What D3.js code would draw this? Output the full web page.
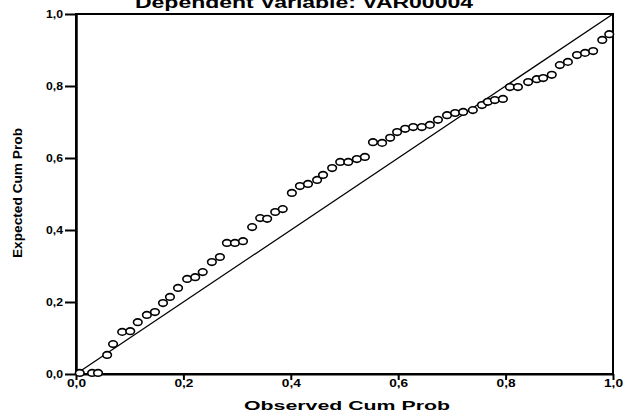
<!DOCTYPE html>
<html>
<head>
<meta charset="utf-8">
<script src="https://cdn.jsdelivr.net/npm/d3@7"></script>
<style>
  html, body { margin: 0; padding: 0; background: #fff; }
  svg { display: block; }
  text { font-family: "Liberation Sans", Arial, sans-serif; font-weight: bold; fill: #000; }
</style>
</head>
<body>
<svg id="chart" width="625" height="417"></svg>
<script>
const title = "Dependent Variable: VAR00004";
const xTitle = "Observed Cum Prob";
const yTitle = "Expected Cum Prob";
const tickValues = [0, 0.2, 0.4, 0.6, 0.8, 1.0];
const tickLabels = ["0,0", "0,2", "0,4", "0,6", "0,8", "1,0"];

const observed = [0.007, 0.030, 0.041, 0.058, 0.069, 0.086, 0.101, 0.115, 0.132, 0.147,
  0.162, 0.175, 0.190, 0.207, 0.222, 0.236, 0.253, 0.268, 0.281, 0.296,
  0.311, 0.328, 0.343, 0.356, 0.371, 0.385, 0.402, 0.417, 0.432, 0.449,
  0.460, 0.477, 0.492, 0.507, 0.523, 0.538, 0.553, 0.570, 0.585, 0.598,
  0.613, 0.628, 0.644, 0.659, 0.674, 0.691, 0.706, 0.721, 0.739, 0.756,
  0.767, 0.780, 0.795, 0.808, 0.823, 0.842, 0.858, 0.870, 0.886, 0.901,
  0.916, 0.933, 0.948, 0.963, 0.980, 0.993];
const expected = [0.003, 0.003, 0.003, 0.053, 0.083, 0.117, 0.119, 0.144, 0.164, 0.172,
  0.197, 0.214, 0.239, 0.264, 0.269, 0.283, 0.311, 0.325, 0.364, 0.364,
  0.369, 0.408, 0.433, 0.431, 0.450, 0.458, 0.503, 0.522, 0.528, 0.539,
  0.553, 0.572, 0.589, 0.589, 0.597, 0.603, 0.644, 0.642, 0.656, 0.672,
  0.681, 0.686, 0.686, 0.692, 0.706, 0.719, 0.725, 0.728, 0.733, 0.747,
  0.756, 0.761, 0.764, 0.797, 0.797, 0.811, 0.819, 0.822, 0.831, 0.858,
  0.867, 0.886, 0.892, 0.897, 0.928, 0.944];
const diagonal = [0, 1];

const svg = d3.select("#chart");
const mLeft = 76, mRight = 613, mTop = 14, mBottom = 374;
const x = d3.scaleLinear().domain([0, 1]).range([mLeft, mRight]);
const y = d3.scaleLinear().domain([0, 1]).range([mBottom, mTop]);
const fmt = d => tickLabels[tickValues.indexOf(d)];

// Title (cut off at top, as in the reference)
svg.append("text").attr("x", 304).attr("y", 8).attr("text-anchor", "middle")
  .attr("font-size", 16).attr("textLength", 338).attr("lengthAdjust", "spacingAndGlyphs")
  .text(title);

// Frame
svg.append("rect").attr("x", mLeft).attr("y", mTop).attr("width", mRight - mLeft).attr("height", mBottom - mTop)
  .attr("fill", "none").attr("stroke", "#000").attr("stroke-width", 2);

// Axes
const xAxis = d3.axisBottom(x).tickValues(tickValues).tickFormat(fmt).tickSize(6).tickSizeOuter(0);
const gx = svg.append("g").attr("transform", `translate(0,${mBottom})`).call(xAxis);
gx.select(".domain").attr("stroke-width", 2);
gx.selectAll(".tick line").attr("stroke-width", 2);
gx.selectAll(".tick text").attr("font-size", 10).attr("dy", "0.2em").attr("y", 11)
  .attr("textLength", 19).attr("lengthAdjust", "spacingAndGlyphs")
  .style("font-family", "'Liberation Sans', Arial, sans-serif").style("font-weight", "bold");

const yAxis = d3.axisLeft(y).tickValues(tickValues).tickFormat(fmt).tickSize(11).tickSizeOuter(0);
const gy = svg.append("g").attr("transform", `translate(${mLeft},0)`).call(yAxis);
gy.select(".domain").attr("stroke-width", 2.5);
gy.selectAll(".tick line").attr("stroke-width", 2);
gy.selectAll(".tick text").attr("font-size", 10).attr("x", -13)
  .attr("textLength", 17).attr("lengthAdjust", "spacingAndGlyphs")
  .style("font-family", "'Liberation Sans', Arial, sans-serif").style("font-weight", "bold");

// Axis titles
svg.append("text").attr("x", 347).attr("y", 410).attr("text-anchor", "middle")
  .attr("font-size", 13).attr("textLength", 206).attr("lengthAdjust", "spacingAndGlyphs")
  .text(xTitle);
svg.append("text").attr("transform", "translate(22,193) rotate(-90)").attr("text-anchor", "middle")
  .attr("font-size", 12).attr("textLength", 130).attr("lengthAdjust", "spacingAndGlyphs")
  .text(yTitle);

// Diagonal reference line
svg.append("line")
  .attr("x1", x(diagonal[0])).attr("y1", y(diagonal[0]))
  .attr("x2", x(diagonal[1])).attr("y2", y(diagonal[1]))
  .attr("stroke", "#000").attr("stroke-width", 1.3);

// Points
const pts = observed.map((o, i) => ({ o, e: expected[i] }));
svg.append("g").selectAll("ellipse").data(pts).join("ellipse")
  .attr("cx", d => x(d.o)).attr("cy", d => y(d.e))
  .attr("rx", 4.3).attr("ry", 3.3)
  .attr("fill", "#fff").attr("stroke", "#000").attr("stroke-width", 1.6);
</script>
</body>
</html>
